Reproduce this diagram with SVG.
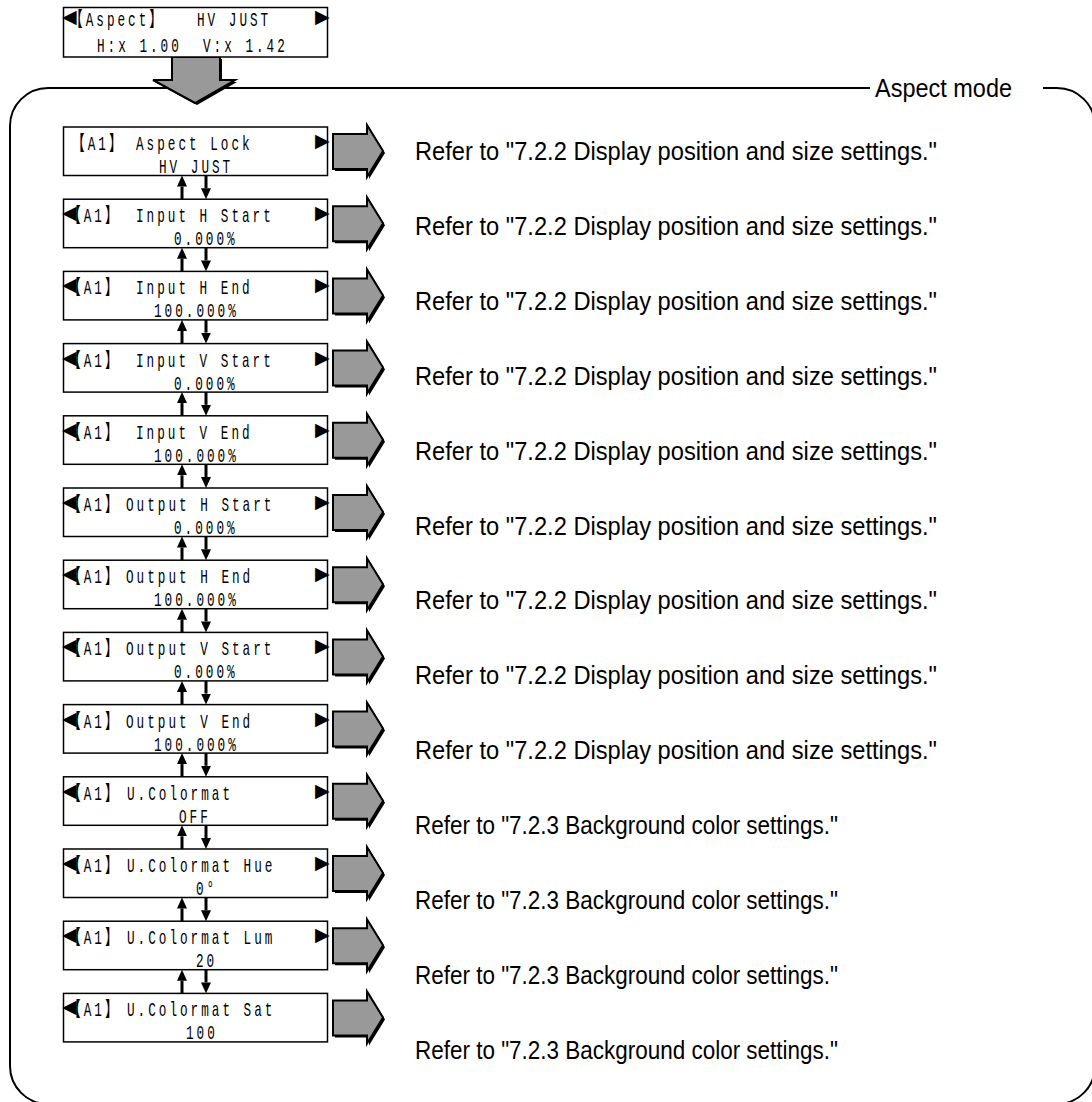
<svg xmlns="http://www.w3.org/2000/svg" width="1092" height="1102" viewBox="0 0 1092 1102">
<style>
.box{fill:#fff;stroke:#000;stroke-width:1.5}
.lcd{font-family:"Liberation Mono","DejaVu Sans Mono","Noto Sans CJK JP",monospace;font-size:20.5px;letter-spacing:4.8px;fill:#000}
.tri{font-family:"DejaVu Sans","Noto Sans CJK JP",sans-serif;font-size:19px;fill:#000}
.ref{font-family:"Liberation Sans",Arial,sans-serif;font-size:25px;fill:#000}
.blk{fill:#999;stroke:#000;stroke-width:2;stroke-linejoin:miter}
.shd{fill:#000}
.conn{stroke:#000;stroke-width:3;fill:none}
.frame{fill:none;stroke:#000;stroke-width:2}
</style>
<defs>
<marker id="ah" markerUnits="userSpaceOnUse" markerWidth="11" markerHeight="10" refX="0" refY="5" orient="auto">
<path d="M0,0 L11,5 L0,10 Z" fill="#000"/>
</marker>
<polygon id="garrow" points="333,7 367,7 367,-2 383,24 367,50 367,42 333,42"/>
</defs>

<g id="frame">
<path class="frame" d="M870,88 H48 A38,38 0 0 0 10,126 V1066 A38,38 0 0 0 48,1104 H1057 A38,38 0 0 0 1095,1066 V126 A38,38 0 0 0 1057,88 H1043"/>
<text class="ref" x="875" y="97" textLength="137" lengthAdjust="spacingAndGlyphs">Aspect mode</text>
</g>

<g id="connectors">
<g id="enter-arrow">
<polygon class="shd" points="174,59 222,59 222,82 237,82 197,105 155,82 174,82"/>
<polygon class="blk" points="172,57 220,57 220,80 235,80 195,103 153,80 172,80"/>
</g>
<g id="side-arrows">
<g transform="translate(0,127)"><use href="#garrow" class="shd" transform="translate(2,2)"/><use href="#garrow" class="blk"/></g>
<g transform="translate(0,199.2)"><use href="#garrow" class="shd" transform="translate(2,2)"/><use href="#garrow" class="blk"/></g>
<g transform="translate(0,271.4)"><use href="#garrow" class="shd" transform="translate(2,2)"/><use href="#garrow" class="blk"/></g>
<g transform="translate(0,343.6)"><use href="#garrow" class="shd" transform="translate(2,2)"/><use href="#garrow" class="blk"/></g>
<g transform="translate(0,415.8)"><use href="#garrow" class="shd" transform="translate(2,2)"/><use href="#garrow" class="blk"/></g>
<g transform="translate(0,488)"><use href="#garrow" class="shd" transform="translate(2,2)"/><use href="#garrow" class="blk"/></g>
<g transform="translate(0,560.2)"><use href="#garrow" class="shd" transform="translate(2,2)"/><use href="#garrow" class="blk"/></g>
<g transform="translate(0,632.4)"><use href="#garrow" class="shd" transform="translate(2,2)"/><use href="#garrow" class="blk"/></g>
<g transform="translate(0,704.6)"><use href="#garrow" class="shd" transform="translate(2,2)"/><use href="#garrow" class="blk"/></g>
<g transform="translate(0,776.8)"><use href="#garrow" class="shd" transform="translate(2,2)"/><use href="#garrow" class="blk"/></g>
<g transform="translate(0,849)"><use href="#garrow" class="shd" transform="translate(2,2)"/><use href="#garrow" class="blk"/></g>
<g transform="translate(0,921.2)"><use href="#garrow" class="shd" transform="translate(2,2)"/><use href="#garrow" class="blk"/></g>
<g transform="translate(0,993.4)"><use href="#garrow" class="shd" transform="translate(2,2)"/><use href="#garrow" class="blk"/></g>
</g>
<g id="updown">
<g transform="translate(0,127)"><line class="conn" x1="182" y1="72.2" x2="182" y2="59.5" marker-end="url(#ah)"/><line class="conn" x1="206" y1="48.5" x2="206" y2="61.2" marker-end="url(#ah)"/></g>
<g transform="translate(0,199.2)"><line class="conn" x1="182" y1="72.2" x2="182" y2="59.5" marker-end="url(#ah)"/><line class="conn" x1="206" y1="48.5" x2="206" y2="61.2" marker-end="url(#ah)"/></g>
<g transform="translate(0,271.4)"><line class="conn" x1="182" y1="72.2" x2="182" y2="59.5" marker-end="url(#ah)"/><line class="conn" x1="206" y1="48.5" x2="206" y2="61.2" marker-end="url(#ah)"/></g>
<g transform="translate(0,343.6)"><line class="conn" x1="182" y1="72.2" x2="182" y2="59.5" marker-end="url(#ah)"/><line class="conn" x1="206" y1="48.5" x2="206" y2="61.2" marker-end="url(#ah)"/></g>
<g transform="translate(0,415.8)"><line class="conn" x1="182" y1="72.2" x2="182" y2="59.5" marker-end="url(#ah)"/><line class="conn" x1="206" y1="48.5" x2="206" y2="61.2" marker-end="url(#ah)"/></g>
<g transform="translate(0,488)"><line class="conn" x1="182" y1="72.2" x2="182" y2="59.5" marker-end="url(#ah)"/><line class="conn" x1="206" y1="48.5" x2="206" y2="61.2" marker-end="url(#ah)"/></g>
<g transform="translate(0,560.2)"><line class="conn" x1="182" y1="72.2" x2="182" y2="59.5" marker-end="url(#ah)"/><line class="conn" x1="206" y1="48.5" x2="206" y2="61.2" marker-end="url(#ah)"/></g>
<g transform="translate(0,632.4)"><line class="conn" x1="182" y1="72.2" x2="182" y2="59.5" marker-end="url(#ah)"/><line class="conn" x1="206" y1="48.5" x2="206" y2="61.2" marker-end="url(#ah)"/></g>
<g transform="translate(0,704.6)"><line class="conn" x1="182" y1="72.2" x2="182" y2="59.5" marker-end="url(#ah)"/><line class="conn" x1="206" y1="48.5" x2="206" y2="61.2" marker-end="url(#ah)"/></g>
<g transform="translate(0,776.8)"><line class="conn" x1="182" y1="72.2" x2="182" y2="59.5" marker-end="url(#ah)"/><line class="conn" x1="206" y1="48.5" x2="206" y2="61.2" marker-end="url(#ah)"/></g>
<g transform="translate(0,849)"><line class="conn" x1="182" y1="72.2" x2="182" y2="59.5" marker-end="url(#ah)"/><line class="conn" x1="206" y1="48.5" x2="206" y2="61.2" marker-end="url(#ah)"/></g>
<g transform="translate(0,921.2)"><line class="conn" x1="182" y1="72.2" x2="182" y2="59.5" marker-end="url(#ah)"/><line class="conn" x1="206" y1="48.5" x2="206" y2="61.2" marker-end="url(#ah)"/></g>
</g>
</g>

<g id="aspect-top">
<rect class="box" x="63.5" y="7.5" width="264" height="49.5"/>
<text class="tri" x="62" y="23">◀</text>
<text class="lcd" transform="matrix(0.62 0 0 1 70 26)">【Aspect】</text>
<text class="lcd" transform="matrix(0.62 0 0 1 197 26)">HV JUST</text>
<text class="tri" x="315" y="23">▶</text>
<text class="lcd" xml:space="preserve" style="white-space:pre" transform="matrix(0.62 0 0 1 97 52)">H:x 1.00  V:x 1.42</text>
</g>

<g id="n0" transform="translate(0,127)">
<rect class="box" x="63.5" y="0" width="264" height="48.5"/>
<text class="lcd" transform="matrix(0.62 0 0 1 72 23)">【A1】</text>
<text class="lcd" transform="matrix(0.62 0 0 1 136 23)">Aspect Lock</text>
<text class="tri" x="315" y="20">▶</text>
<text class="lcd" transform="matrix(0.62 0 0 1 159 46)">HV JUST</text>
<text class="ref" x="415" y="33" textLength="522" lengthAdjust="spacingAndGlyphs">Refer to "7.2.2 Display position and size settings."</text>
</g>

<g id="n1" transform="translate(0,199.2)">
<rect class="box" x="63.5" y="0" width="264" height="48.5"/>
<text class="tri" x="62" y="20">◀</text>
<text class="lcd" transform="matrix(0.62 0 0 1 68 23)">【A1】</text>
<text class="lcd" transform="matrix(0.62 0 0 1 136 23)">Input H Start</text>
<text class="tri" x="315" y="20">▶</text>
<text class="lcd" transform="matrix(0.62 0 0 1 174 46)">0.000%</text>
<text class="ref" x="415" y="35.7" textLength="522" lengthAdjust="spacingAndGlyphs">Refer to "7.2.2 Display position and size settings."</text>
</g>

<g id="n2" transform="translate(0,271.4)">
<rect class="box" x="63.5" y="0" width="264" height="48.5"/>
<text class="tri" x="62" y="20">◀</text>
<text class="lcd" transform="matrix(0.62 0 0 1 68 23)">【A1】</text>
<text class="lcd" transform="matrix(0.62 0 0 1 136 23)">Input H End</text>
<text class="tri" x="315" y="20">▶</text>
<text class="lcd" transform="matrix(0.62 0 0 1 154 46)">100.000%</text>
<text class="ref" x="415" y="38.4" textLength="522" lengthAdjust="spacingAndGlyphs">Refer to "7.2.2 Display position and size settings."</text>
</g>

<g id="n3" transform="translate(0,343.6)">
<rect class="box" x="63.5" y="0" width="264" height="48.5"/>
<text class="tri" x="62" y="20">◀</text>
<text class="lcd" transform="matrix(0.62 0 0 1 68 23)">【A1】</text>
<text class="lcd" transform="matrix(0.62 0 0 1 136 23)">Input V Start</text>
<text class="tri" x="315" y="20">▶</text>
<text class="lcd" transform="matrix(0.62 0 0 1 174 46)">0.000%</text>
<text class="ref" x="415" y="41.1" textLength="522" lengthAdjust="spacingAndGlyphs">Refer to "7.2.2 Display position and size settings."</text>
</g>

<g id="n4" transform="translate(0,415.8)">
<rect class="box" x="63.5" y="0" width="264" height="48.5"/>
<text class="tri" x="62" y="20">◀</text>
<text class="lcd" transform="matrix(0.62 0 0 1 68 23)">【A1】</text>
<text class="lcd" transform="matrix(0.62 0 0 1 136 23)">Input V End</text>
<text class="tri" x="315" y="20">▶</text>
<text class="lcd" transform="matrix(0.62 0 0 1 154 46)">100.000%</text>
<text class="ref" x="415" y="43.8" textLength="522" lengthAdjust="spacingAndGlyphs">Refer to "7.2.2 Display position and size settings."</text>
</g>

<g id="n5" transform="translate(0,488)">
<rect class="box" x="63.5" y="0" width="264" height="48.5"/>
<text class="tri" x="62" y="20">◀</text>
<text class="lcd" transform="matrix(0.62 0 0 1 68 23)">【A1】</text>
<text class="lcd" transform="matrix(0.62 0 0 1 126 23)">Output H Start</text>
<text class="tri" x="315" y="20">▶</text>
<text class="lcd" transform="matrix(0.62 0 0 1 174 46)">0.000%</text>
<text class="ref" x="415" y="46.5" textLength="522" lengthAdjust="spacingAndGlyphs">Refer to "7.2.2 Display position and size settings."</text>
</g>

<g id="n6" transform="translate(0,560.2)">
<rect class="box" x="63.5" y="0" width="264" height="48.5"/>
<text class="tri" x="62" y="20">◀</text>
<text class="lcd" transform="matrix(0.62 0 0 1 68 23)">【A1】</text>
<text class="lcd" transform="matrix(0.62 0 0 1 126 23)">Output H End</text>
<text class="tri" x="315" y="20">▶</text>
<text class="lcd" transform="matrix(0.62 0 0 1 154 46)">100.000%</text>
<text class="ref" x="415" y="49.2" textLength="522" lengthAdjust="spacingAndGlyphs">Refer to "7.2.2 Display position and size settings."</text>
</g>

<g id="n7" transform="translate(0,632.4)">
<rect class="box" x="63.5" y="0" width="264" height="48.5"/>
<text class="tri" x="62" y="20">◀</text>
<text class="lcd" transform="matrix(0.62 0 0 1 68 23)">【A1】</text>
<text class="lcd" transform="matrix(0.62 0 0 1 126 23)">Output V Start</text>
<text class="tri" x="315" y="20">▶</text>
<text class="lcd" transform="matrix(0.62 0 0 1 174 46)">0.000%</text>
<text class="ref" x="415" y="51.9" textLength="522" lengthAdjust="spacingAndGlyphs">Refer to "7.2.2 Display position and size settings."</text>
</g>

<g id="n8" transform="translate(0,704.6)">
<rect class="box" x="63.5" y="0" width="264" height="48.5"/>
<text class="tri" x="62" y="20">◀</text>
<text class="lcd" transform="matrix(0.62 0 0 1 68 23)">【A1】</text>
<text class="lcd" transform="matrix(0.62 0 0 1 126 23)">Output V End</text>
<text class="tri" x="315" y="20">▶</text>
<text class="lcd" transform="matrix(0.62 0 0 1 154 46)">100.000%</text>
<text class="ref" x="415" y="54.6" textLength="522" lengthAdjust="spacingAndGlyphs">Refer to "7.2.2 Display position and size settings."</text>
</g>

<g id="n9" transform="translate(0,776.8)">
<rect class="box" x="63.5" y="0" width="264" height="48.5"/>
<text class="tri" x="62" y="20">◀</text>
<text class="lcd" transform="matrix(0.62 0 0 1 68 23)">【A1】</text>
<text class="lcd" transform="matrix(0.62 0 0 1 127 23)">U.Colormat</text>
<text class="tri" x="315" y="20">▶</text>
<text class="lcd" transform="matrix(0.62 0 0 1 179 46)">OFF</text>
<text class="ref" x="415" y="57.3" textLength="423" lengthAdjust="spacingAndGlyphs">Refer to "7.2.3 Background color settings."</text>
</g>

<g id="n10" transform="translate(0,849)">
<rect class="box" x="63.5" y="0" width="264" height="48.5"/>
<text class="tri" x="62" y="20">◀</text>
<text class="lcd" transform="matrix(0.62 0 0 1 68 23)">【A1】</text>
<text class="lcd" transform="matrix(0.62 0 0 1 127 23)">U.Colormat Hue</text>
<text class="tri" x="315" y="20">▶</text>
<text class="lcd" transform="matrix(0.62 0 0 1 196 46)">0°</text>
<text class="ref" x="415" y="60" textLength="423" lengthAdjust="spacingAndGlyphs">Refer to "7.2.3 Background color settings."</text>
</g>

<g id="n11" transform="translate(0,921.2)">
<rect class="box" x="63.5" y="0" width="264" height="48.5"/>
<text class="tri" x="62" y="20">◀</text>
<text class="lcd" transform="matrix(0.62 0 0 1 68 23)">【A1】</text>
<text class="lcd" transform="matrix(0.62 0 0 1 127 23)">U.Colormat Lum</text>
<text class="tri" x="315" y="20">▶</text>
<text class="lcd" transform="matrix(0.62 0 0 1 196 46)">20</text>
<text class="ref" x="415" y="62.7" textLength="423" lengthAdjust="spacingAndGlyphs">Refer to "7.2.3 Background color settings."</text>
</g>

<g id="n12" transform="translate(0,993.4)">
<rect class="box" x="63.5" y="0" width="264" height="48.5"/>
<text class="tri" x="62" y="20">◀</text>
<text class="lcd" transform="matrix(0.62 0 0 1 68 23)">【A1】</text>
<text class="lcd" transform="matrix(0.62 0 0 1 127 23)">U.Colormat Sat</text>
<text class="lcd" transform="matrix(0.62 0 0 1 186 46)">100</text>
<text class="ref" x="415" y="65.4" textLength="423" lengthAdjust="spacingAndGlyphs">Refer to "7.2.3 Background color settings."</text>
</g>
</svg>
